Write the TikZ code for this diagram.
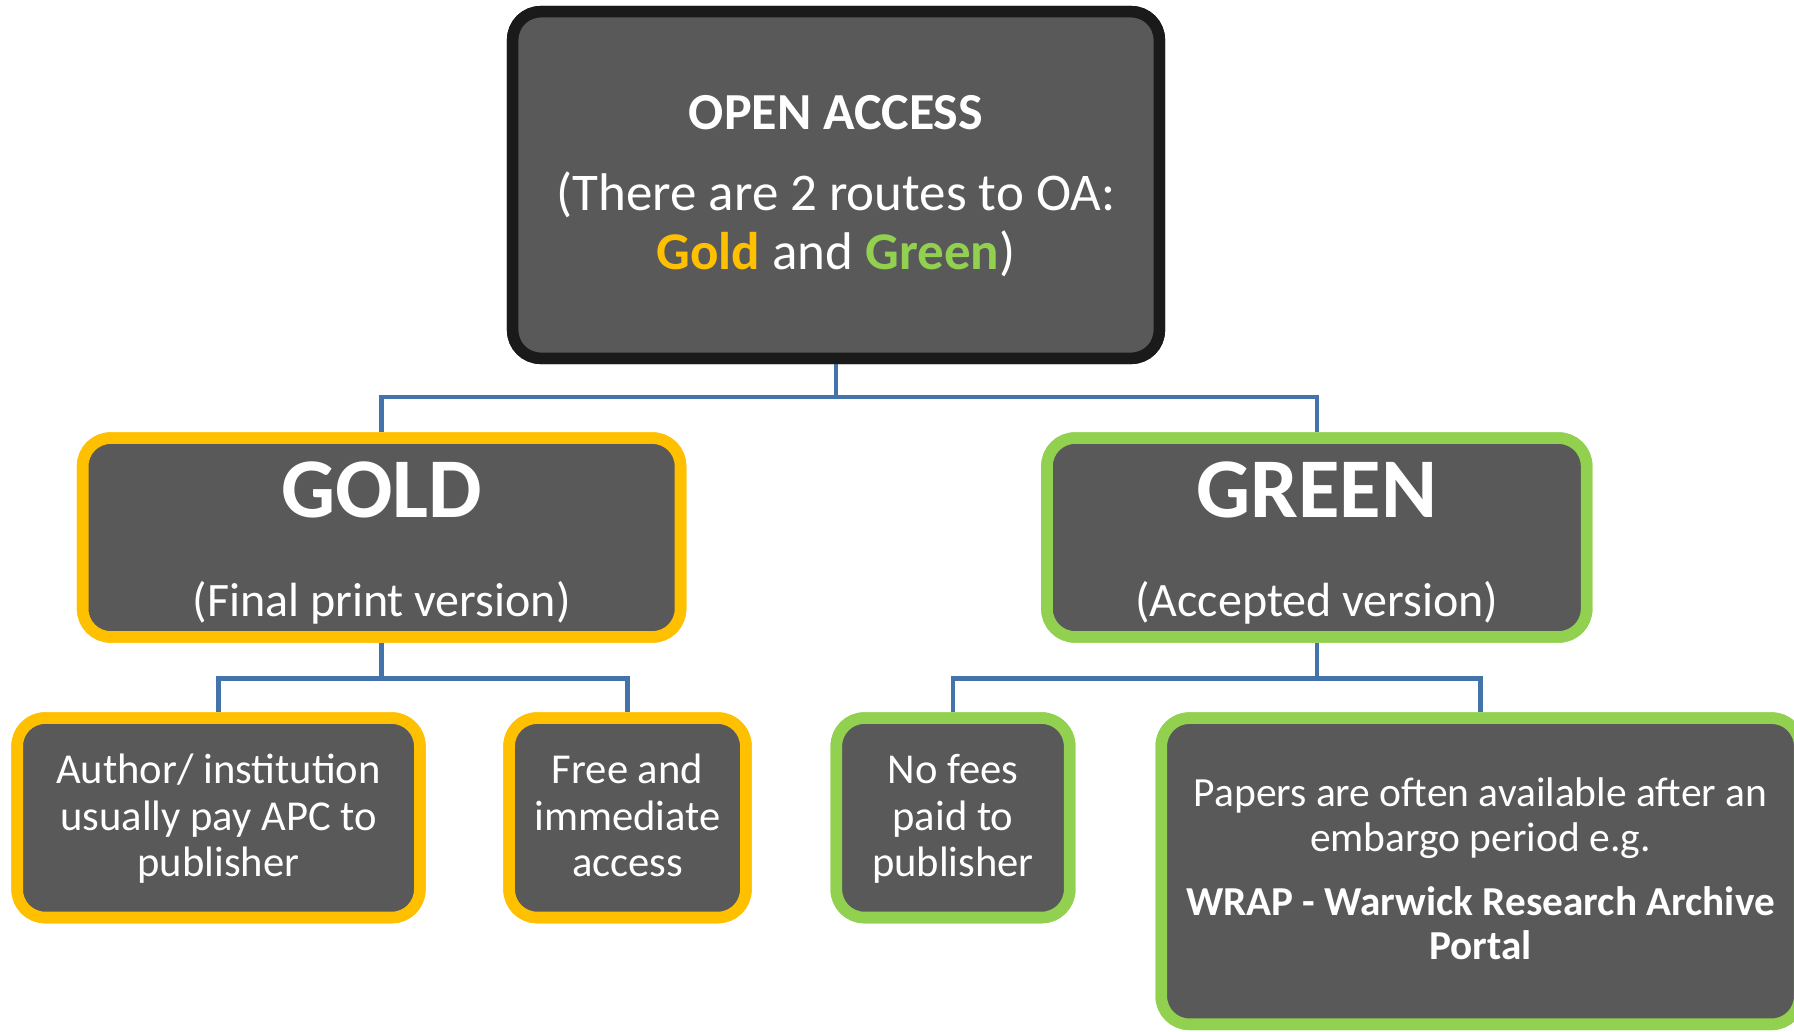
\documentclass[tikz,border=0pt]{standalone}
\usepackage{fontspec}
\setmainfont{Carlito}
\definecolor{boxfill}{RGB}{89,89,89}
\definecolor{topborder}{RGB}{26,26,26}
\definecolor{goldc}{RGB}{255,192,0}
\definecolor{greenc}{RGB}{146,208,80}
\definecolor{connc}{RGB}{68,114,170}
\tikzset{
  box/.style={draw, rounded corners=28pt, fill=boxfill, line width=11.6pt, inner sep=0pt},
  topbox/.style={box, draw=topborder, line width=11.5pt},
  goldbox/.style={box, draw=goldc},
  greenbox/.style={box, draw=greenc},
  conn/.style={draw=connc, line width=4.5pt},
  txt/.style={text=white, inner sep=0pt, anchor=base},
  fsmall/.style={font=\fontsize{42.6pt}{47pt}\selectfont},
  fbig/.style={font=\fontsize{41.5pt}{47pt}\selectfont},
  fbigb/.style={font=\bfseries\fontsize{41.2pt}{47pt}\selectfont},
  fmid/.style={font=\fontsize{48pt}{57pt}\selectfont},
  ftop/.style={font=\fontsize{53pt}{58pt}\selectfont},
  fhead/.style={font=\bfseries\fontsize{85pt}{90pt}\selectfont},
}
\begin{document}
\begin{tikzpicture}[x=1pt,y=-1pt]
\useasboundingbox (0,0) rectangle (1794,1031);
\clip (0,0) rectangle (1794,1031);
\fill[white] (0,0) rectangle (1794,1031);

% connector junctions
\coordinate (j1) at (836,397);
\coordinate (j2) at (381.6,678.3);
\coordinate (j3) at (1316.8,678.3);

% boxes (named nodes)
\node[topbox, minimum width=646.6pt, minimum height=346.6pt] (top) at (836,185) {};
\node[goldbox, minimum width=597.8pt, minimum height=198.8pt] (gold) at (381.6,537.5) {};
\node[greenbox, minimum width=539.6pt, minimum height=198.8pt] (green) at (1316.8,537.5) {};
\node[goldbox, minimum width=402.6pt, minimum height=199.4pt] (gc1) at (218.5,817.8) {};
\node[goldbox, minimum width=236.7pt, minimum height=199.4pt] (gc2) at (627.5,817.8) {};
\node[greenbox, minimum width=233.3pt, minimum height=199.4pt] (rc1) at (953,817.8) {};
\node[greenbox, minimum width=638.4pt, minimum height=306.1pt] (rc2) at (1480.5,871.2) {};

% connectors
\draw[conn] (top.south) -- (j1);
\draw[conn] (j1) -| (gold.north);
\draw[conn] (j1) -| (green.north);
\draw[conn] (gold.south) -- (j2);
\draw[conn] (j2) -| (gc1.north);
\draw[conn] (j2) -| (gc2.north);
\draw[conn] (green.south) -- (j3);
\draw[conn] (j3) -| (rc1.north);
\draw[conn] (j3) -| (rc2.north);

% box outlines redrawn over connector ends
\node[topbox, minimum width=646.6pt, minimum height=346.6pt] at (top.center) {};
\node[goldbox, minimum width=597.8pt, minimum height=198.8pt] at (gold.center) {};
\node[greenbox, minimum width=539.6pt, minimum height=198.8pt] at (green.center) {};
\node[goldbox, minimum width=402.6pt, minimum height=199.4pt] at (gc1.center) {};
\node[goldbox, minimum width=236.7pt, minimum height=199.4pt] at (gc2.center) {};
\node[greenbox, minimum width=233.3pt, minimum height=199.4pt] at (rc1.center) {};
\node[greenbox, minimum width=638.4pt, minimum height=306.1pt] at (rc2.center) {};

% texts
\node[txt, font=\bfseries\fontsize{52pt}{60pt}\selectfont] (tOA) at (836,129.3) {OPEN ACCESS};
\node[txt, ftop] (tRoutes) at (836,210.7) {(There are 2 routes to OA:};
\node[txt, ftop] (tGG) at (836,269.3) {\textcolor{goldc}{\bfseries Gold} and \textcolor{greenc}{\bfseries Green})};

\node[txt, fhead] (tGold) at (381.6,517.7) {GOLD};
\node[txt, fmid] (tGoldSub) at (381.6,616.7) {(Final print version)};
\node[txt, fhead] (tGreen) at (1316.8,517.7) {GREEN};
\node[txt, fmid] (tGreenSub) at (1316.8,616.7) {(Accepted version)};

\node[txt, fsmall] (a1) at (218.5,783.3) {Author/ institution};
\node[txt, fsmall] (a2) at (218.5,830) {usually pay APC to};
\node[txt, fsmall] (a3) at (218.5,876.7) {publisher};

\node[txt, fsmall] (b1) at (627.5,783.3) {Free and};
\node[txt, fsmall] (b2) at (627.5,830) {immediate};
\node[txt, fsmall] (b3) at (627.5,876.7) {access};

\node[txt, fsmall] (c1) at (953,783.3) {No fees};
\node[txt, fsmall] (c2) at (953,830) {paid to};
\node[txt, fsmall] (c3) at (953,876.7) {publisher};

\node[txt, fbig] (d1) at (1480.5,806) {Papers are often available after an};
\node[txt, fbig] (d2) at (1480.5,851.7) {embargo period e.g.};
\node[txt, fbigb] (d3) at (1480.5,915) {WRAP - Warwick Research Archive};
\node[txt, fbigb] (d4) at (1480.5,959.3) {Portal};
\end{tikzpicture}
\end{document}
